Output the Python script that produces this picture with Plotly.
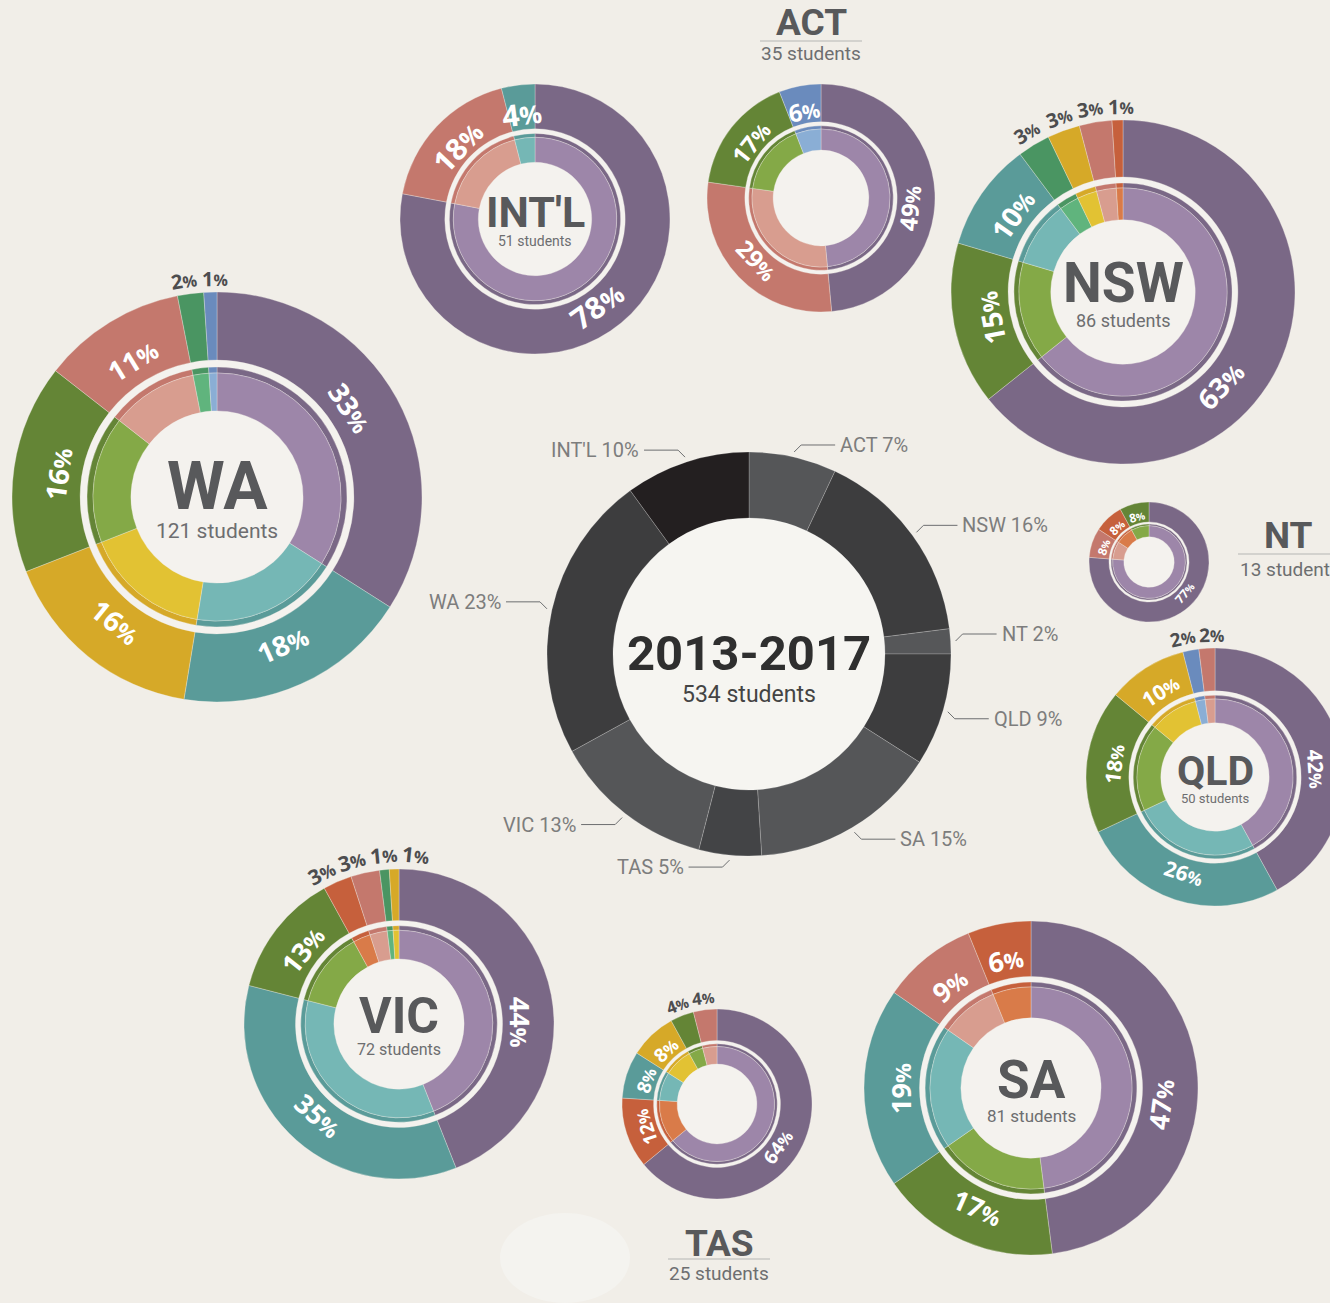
import numpy as np
import plotly.graph_objects as go

W, H = 1345, 1303
BG = "#f1eee8"
FILL = "#f4f2ee"

# ---- overall split (clockwise from 12 o'clock) ----
regions = ["ACT", "NSW", "NT", "QLD", "SA", "TAS", "VIC", "WA", "INT'L"]
region_share = [7, 16, 2, 9, 15, 5, 13, 23, 10]
region_colors = ["#555658", "#3d3d3e", "#565759", "#3d3d3e", "#555658",
                 "#434446", "#555658", "#3d3d3e", "#231f20"]
total_students = 534

# ---- per-region breakdown (clockwise from 12 o'clock) ----
wa_cats = ["purple", "teal", "mustard", "dgreen", "salmon", "mgreen", "blue"]
wa_vals = [33, 18, 16, 16, 11, 2, 1]
intl_cats = ["purple", "salmon", "teal"]
intl_vals = [78, 18, 4]
act_cats = ["purple", "salmon", "dgreen", "blue"]
act_vals = [49, 29, 17, 6]
nsw_cats = ["purple", "dgreen", "teal", "mgreen", "mustard", "salmon", "orange"]
nsw_vals = [63, 15, 10, 3, 3, 3, 1]
nt_cats = ["purple", "salmon", "orange", "dgreen"]
nt_vals = [77, 8, 8, 8]
qld_cats = ["purple", "teal", "dgreen", "mustard", "blue", "salmon"]
qld_vals = [42, 26, 18, 10, 2, 2]
vic_cats = ["purple", "teal", "dgreen", "orange", "salmon", "mgreen", "mustard"]
vic_vals = [44, 35, 13, 3, 3, 1, 1]
tas_cats = ["purple", "orange", "teal", "mustard", "dgreen", "salmon"]
tas_vals = [64, 12, 8, 8, 4, 4]
sa_cats = ["purple", "dgreen", "teal", "salmon", "orange"]
sa_vals = [47, 17, 19, 9, 6]

students = {"WA": 121, "INT'L": 51, "ACT": 35, "NSW": 86, "NT": 13,
            "QLD": 50, "VIC": 72, "TAS": 25, "SA": 81}

outer_col = {
    "purple": "#7a6886", "teal": "#5a9b99", "dgreen": "#648536",
    "mustard": "#d6a928", "salmon": "#c4786d", "mgreen": "#4a9562",
    "blue": "#6a8bbd", "orange": "#c6603c",
}
inner_col = {
    "purple": "#9d86a9", "teal": "#75b7b5", "dgreen": "#84a947",
    "mustard": "#e2c233", "salmon": "#d89d8f", "mgreen": "#60b47d",
    "blue": "#8aaed5", "orange": "#d97b49",
}

# layout: centre x, centre y, radius (px), inside / outside label size,
# angular nudge (deg) of the label on the first (largest) slice
donuts = [
    ("WA", wa_cats, wa_vals, 217, 497, 205, 28, 20, -5),
    ("INT'L", intl_cats, intl_vals, 535, 219, 135, 30, 19, 4),
    ("ACT", act_cats, act_vals, 821, 198, 114, 24, 18, 9),
    ("NSW", nsw_cats, nsw_vals, 1123, 292, 172, 28, 20, 18),
    ("NT", nt_cats, nt_vals, 1149, 562, 60, 12, 11, -7),
    ("QLD", qld_cats, qld_vals, 1215, 777, 129, 21, 19, 10),
    ("VIC", vic_cats, vic_vals, 399, 1024, 155, 27, 21, 10),
    ("TAS", tas_cats, tas_vals, 717, 1104, 95, 19, 17, 10),
    ("SA", sa_cats, sa_vals, 1031, 1088, 167, 27, 21, 11),
]

FONT = "Roboto, Open Sans, sans-serif"
PCT_FONT = "Open Sans, Roboto, sans-serif"


def fx(x):
    return min(max(x / W, 0), 1)


def fy(y):
    return min(max(1 - y / H, 0), 1)


def dom(cx, cy, r):
    return dict(x=[fx(cx - r), fx(cx + r)], y=[fy(cy + r), fy(cy - r)])


fig = go.Figure()
shapes = []
annotations = []


def add_ring(cx, cy, r, hole, values, colors):
    fig.add_trace(go.Pie(
        values=values,
        marker=dict(colors=colors, line=dict(color="rgba(241,238,232,0.45)", width=0.7)),
        hole=hole,
        domain=dom(cx, cy, r),
        sort=False,
        direction="clockwise",
        rotation=0,
        textinfo="none",
        hoverinfo="skip",
        showlegend=False,
    ))


def circle(cx, cy, r, color):
    shapes.append(dict(type="circle", xref="paper", yref="paper",
                       x0=fx(cx - r), x1=fx(cx + r), y0=fy(cy + r), y1=fy(cy - r),
                       fillcolor=color, line=dict(width=0), layer="below"))


def text(x, y, s, size, color, bold=False, anchor="center", angle=0, family=FONT):
    annotations.append(dict(
        x=x / W, y=1 - y / H, xref="paper", yref="paper", text=s,
        showarrow=False, xanchor=anchor, yanchor="middle", textangle=angle,
        font=dict(family=family, size=size, color=color,
                  weight=700 if bold else 400),
    ))


# faint circle near the bottom
circle(565, 1278, 65, "#f4f3ef")

# ---- central donut ----
CX, CY, CR = 749, 654, 202
circle(CX, CY, 137, "#f6f5f1")
fig.add_trace(go.Pie(
    values=region_share, labels=regions,
    marker=dict(colors=region_colors, line=dict(color="rgba(255,255,255,0.25)", width=0.8)),
    hole=136 / CR, domain=dom(CX, CY, CR), sort=False, direction="clockwise",
    rotation=0, textinfo="none", hoverinfo="skip", showlegend=False,
))
text(CX, CY, "2013-2017", 49, "#2f2f2f", bold=True)
text(CX, CY + 40, f"{total_students} students", 23, "#444444")

cum = 0
tot = sum(region_share)
for name, v in zip(regions, region_share):
    th = np.radians((cum + v / 2) / tot * 360)
    cum += v
    ax, ay = CX + (CR + 5) * np.sin(th), CY - (CR + 5) * np.cos(th)
    sx = 1 if np.sin(th) > 0 else -1
    sy = -1 if np.cos(th) > 0 else 1
    ex, ey = ax + 7 * sx, ay + 7 * sy
    hx = ex + 34 * sx
    shapes.append(dict(type="path", xref="paper", yref="paper",
                       path=f"M {ax / W},{1 - ay / H} L {ex / W},{1 - ey / H} L {hx / W},{1 - ey / H}",
                       line=dict(color="#6d6e70", width=1)))
    text(hx + 3 * sx, ey, f"{name} {v}%", 20, "#7d7d7d",
         anchor="left" if sx > 0 else "right")

# ---- region donuts ----
for name, cats, vals, cx, cy, r, fs_in, fs_out, nudge in donuts:
    oc = [outer_col[c] for c in cats]
    ic = [inner_col[c] for c in cats]
    circle(cx, cy, 0.668 * r, FILL)
    add_ring(cx, cy, r, 0.668, vals, oc)
    add_ring(cx, cy, 0.634 * r, 0.605 / 0.634, vals, oc)
    add_ring(cx, cy, 0.605 * r, 0.42 / 0.605, vals, ic)

    total = sum(vals)
    cum = 0
    items = []
    for v in vals:
        items.append(dict(v=v, th=(cum + v / 2) / total * 360, out=(v < 5 and v * r < 530)))
        cum += v
    items[0]["th"] += nudge

    # spread small outside labels so they do not collide
    r_out = r + 0.7 * fs_out
    delta = np.degrees(1.55 * fs_out / r_out)
    outs = [it for it in items if it["out"]]
    for _ in range(20):
        if all(b["th"] - a["th"] >= delta - 1e-6 for a, b in zip(outs, outs[1:])):
            break
        groups = [[outs[0]]]
        for a, b in zip(outs, outs[1:]):
            if b["th"] - a["th"] <= delta + 1e-6:
                groups[-1].append(b)
            else:
                groups.append([b])
        for g in groups:
            m = np.mean([it["th"] for it in g])
            for k, it in enumerate(g):
                it["th"] = m + (k - (len(g) - 1) / 2) * delta

    for it in items:
        theta, v, outside = it["th"], it["v"], it["out"]
        rad = r_out if outside else 0.785 * r
        t = np.radians(theta)
        x, y = cx + rad * np.sin(t), cy - rad * np.cos(t)
        ang = theta - 180 if 90 < theta < 240 else theta
        if ang > 180:
            ang -= 360
        fs = fs_out if outside else fs_in
        col = "#4d4d4f" if outside else "#ffffff"
        label = f"{v}<span style='font-size:{round(fs * 0.82)}px'>%</span>"
        text(x, y, label, fs, col, bold=True, angle=ang, family=PCT_FONT)

    if name in ("ACT", "NT", "TAS"):
        continue
    text(cx, cy - 0.05 * r, name, round(0.32 * r), "#58595b", bold=True)
    text(cx, cy + 0.165 * r, f"{students[name]} students", round(0.103 * r), "#6d6e70")

# titles placed outside the small donuts
for name, tx, ty, lx0, lx1, ly, sty, anchor, sx in [
    ("ACT", 811, 22, 760, 862, 41, 53, "center", 811),
    ("NT", 1288, 535, 1238, 1345, 554, 569, "left", 1238),
    ("TAS", 719, 1243, 668, 770, 1259, 1273, "center", 719),
]:
    text(tx, ty, name, 37, "#58595b", bold=True)
    shapes.append(dict(type="line", xref="paper", yref="paper",
                       x0=fx(lx0), x1=fx(lx1), y0=fy(ly), y1=fy(ly),
                       line=dict(color="#c8c8c6", width=1.5)))
    text(sx, sty, f"{students[name]} students", 19, "#6d6e70", anchor=anchor)

fig.update_layout(
    width=W, height=H,
    margin=dict(l=0, r=0, t=0, b=0),
    paper_bgcolor=BG, plot_bgcolor=BG,
    shapes=shapes, annotations=annotations,
)

# the page is narrower than the canvas: drop the default body margin and crop
fig.write_html(
    "out.html",
    config={"displayModeBar": False},
    post_script="document.body.style.margin='0';"
                "document.body.style.overflow='hidden';"
                "document.documentElement.style.overflow='hidden';",
)
